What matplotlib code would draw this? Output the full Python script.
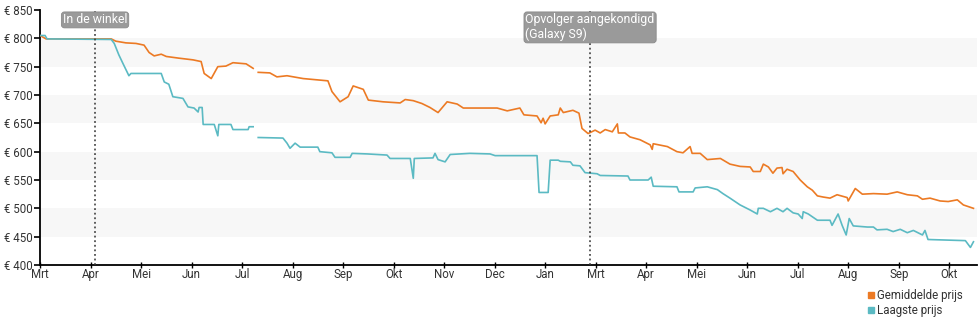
import numpy as np
import matplotlib
matplotlib.use("Agg")
import matplotlib.pyplot as plt
from matplotlib.lines import Line2D

plt.rcParams["font.family"] = ["Roboto", "DejaVu Sans"]

# Axis positions are in tick units: tick i carries month_labels[i]
month_labels = ["Mrt", "Apr", "Mei", "Jun", "Jul", "Aug", "Sep", "Okt", "Nov",
                "Dec", "Jan", "Mrt", "Apr", "Mei", "Jun", "Jul", "Aug", "Sep", "Okt"]
price_ticks = [400, 450, 500, 550, 600, 650, 700, 750, 800, 850]

# Gemiddelde prijs (average price); NaN marks a gap in the data
avg_t = [0, 0.12, 1.41, 1.50, 1.70, 1.90, 2.06, 2.16, 2.26, 2.40, 2.50, 2.75, 3.03,
         3.19, 3.25, 3.39, 3.52, 3.68, 3.82, 4.08, 4.22, 4.27, 4.32, 4.55, 4.69,
         4.89, 5.21, 5.70, 5.78, 5.94, 6.10, 6.20, 6.40, 6.50, 6.79, 7.13, 7.23,
         7.39, 7.56, 7.72, 7.88, 8.06, 8.26, 8.38, 9.05, 9.25, 9.50, 9.58, 9.84,
         9.92, 9.96, 10.00, 10.10, 10.26, 10.30, 10.36, 10.55, 10.67, 10.73, 10.85,
         10.99, 11.09, 11.19, 11.33, 11.43, 11.45, 11.58, 11.68, 11.88, 12.08, 12.12,
         12.14, 12.42, 12.61, 12.73, 12.87, 12.91, 13.07, 13.21, 13.47, 13.66, 13.86,
         14.06, 14.12, 14.26, 14.32, 14.42, 14.51, 14.59, 14.69, 14.71, 14.79, 14.91,
         15.05, 15.19, 15.29, 15.39, 15.50, 15.64, 15.78, 15.98, 16.00, 16.14, 16.28,
         16.50, 16.77, 16.97, 17.17, 17.37, 17.47, 17.62, 17.82, 17.98, 18.16, 18.28,
         18.48]
avg_price = [805, 799, 799, 795, 792, 791, 788, 775, 769, 772, 768, 765, 762,
             759, 738, 729, 750, 751, 757, 755, 747, np.nan, 740, 739, 732,
             734, 729, 725, 706, 688, 697, 716, 710, 691, 688, 686, 692,
             690, 685, 678, 669, 688, 684, 677, 677, 672, 677, 665, 663,
             651, 659, 649, 663, 665, 677, 669, 673, 668, 641, 632,
             638, 633, 639, 635, 649, 633, 633, 626, 621, 612, 604,
             614, 609, 600, 598, 609, 597, 597, 586, 588, 578, 574,
             573, 565, 565, 578, 573, 562, 571, 572, 561, 569, 565,
             550, 538, 532, 522, 520, 518, 524, 519, 513, 535, 525,
             526, 525, 529, 524, 522, 516, 518, 513, 512, 515, 506,
             500]

# Laagste prijs (lowest price)
low_t = [0, 0.10, 0.14, 1.41, 1.47, 1.56, 1.64, 1.76, 1.80, 2.40, 2.46, 2.55, 2.63,
         2.83, 2.93, 3.05, 3.13, 3.15, 3.21, 3.23, 3.45, 3.52, 3.54, 3.78, 3.82,
         4.12, 4.14, 4.22, 4.27, 4.32, 4.81, 4.89, 4.95, 5.05, 5.15, 5.50, 5.54,
         5.78, 5.84, 6.14, 6.18, 6.48, 6.87, 6.93, 7.33, 7.39, 7.41, 7.78, 7.82,
         7.88, 8.02, 8.12, 8.51, 8.91, 9.01, 9.84, 9.88, 10.06, 10.10, 10.26, 10.30,
         10.50, 10.55, 10.69, 10.79, 11.03, 11.09, 11.64, 11.68, 12.04, 12.10, 12.14,
         12.61, 12.65, 12.93, 12.97, 13.21, 13.41, 13.52, 13.66, 13.86, 14.06, 14.20,
         14.22, 14.32, 14.46, 14.59, 14.71, 14.79, 14.91, 15.01, 15.09, 15.11, 15.21,
         15.39, 15.64, 15.68, 15.80, 15.88, 15.96, 16.02, 16.10, 16.38, 16.50, 16.57,
         16.77, 16.89, 17.03, 17.17, 17.29, 17.47, 17.52, 17.58, 18.32, 18.42, 18.48]
low_price = [805, 805, 799, 798, 791, 771, 756, 734, 738, 738, 723, 719, 697,
             694, 679, 677, 670, 678, 678, 648, 648, 628, 648, 648, 639,
             639, 644, 644, np.nan, 625, 624, 615, 606, 615, 608, 608, 600,
             598, 590, 590, 597, 596, 594, 588, 588, 553, 588, 589, 597,
             586, 582, 595, 597, 596, 593, 593, 528, 528, 585, 585, 583,
             582, 576, 575, 563, 561, 558, 557, 550, 550, 555, 539,
             538, 529, 529, 536, 538, 533, 526, 518, 506, 497, 490,
             500, 500, 494, 500, 494, 500, 492, 490, 482, 494, 490,
             479, 479, 470, 490, 470, 453, 482, 469, 467, 467, 462,
             463, 459, 463, 457, 461, 453, 461, 445, 443, 431, 441]

events = [(1.09, "In de winkel"), (10.89, "Opvolger aangekondigd\n(Galaxy S9)")]

orange = "#ec7a24"
teal = "#5bbac3"

fig = plt.figure(figsize=(9.8, 3.25), dpi=100)
ax = fig.add_axes([40 / 980, 1 - 265 / 325, 937 / 980, 255 / 325])

x_max = 18.55
ax.set_xlim(0, x_max)
ax.set_ylim(400, 850)

# alternating horizontal bands
for lo in (450, 550, 650, 750):
    ax.axhspan(lo, lo + 50, color="#f7f7f7", zorder=0, lw=0)

ax.plot(avg_t, avg_price, color=orange, lw=1.2, zorder=3)
ax.plot(low_t, low_price, color=teal, lw=1.2, zorder=3)

for xv, label in events:
    ax.axvline(xv, color="#333333", lw=1.1, ls=(0, (1.2, 1.8)), zorder=4)
    ax.text(xv, 844, label, ha="center", va="top", fontsize=8.8, color="white",
            multialignment="left", zorder=5, linespacing=1.15,
            bbox=dict(boxstyle="round,pad=0.12,rounding_size=0.25",
                      fc="#9a9a9a", ec="#8a8a8a", lw=0.6))

ax.set_yticks(price_ticks)
ax.set_yticklabels([f"€ {p}" for p in price_ticks])
ax.set_xticks(range(len(month_labels)))
ax.set_xticklabels(month_labels)

for s in ("top", "right"):
    ax.spines[s].set_visible(False)
ax.spines["left"].set_linewidth(1.3)
ax.spines["bottom"].set_linewidth(1.3)
ax.tick_params(axis="y", direction="out", length=4, width=1.2, pad=1,
               labelsize=8.3, labelcolor="#333333")
ax.tick_params(axis="x", direction="inout", length=5, width=1.0, pad=0,
               labelsize=8.3, labelcolor="#333333")

handles = [Line2D([], [], ls="none", marker="s", ms=5, color=orange),
           Line2D([], [], ls="none", marker="s", ms=5, color=teal)]
fig.legend(handles, ["Gemiddelde prijs", "Laagste prijs"], loc="upper right",
           bbox_to_anchor=(0.982, 0.11), frameon=False, fontsize=8.3,
           handlelength=0.6, handletextpad=0.2, labelspacing=0.15,
           borderpad=0, borderaxespad=0, labelcolor="#333333")

fig.savefig("out.png", dpi=100)
